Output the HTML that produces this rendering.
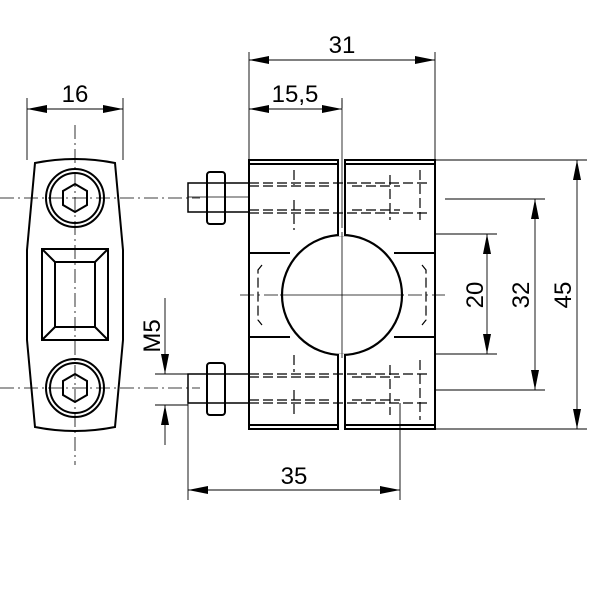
<!DOCTYPE html>
<html><head><style>body{margin:0;background:#fff}svg{display:block}text{font-family:"Liberation Sans",sans-serif;font-size:24px;fill:#000}</style></head><body>
<svg width="600" height="600" viewBox="0 0 600 600" xmlns="http://www.w3.org/2000/svg">
<defs>
<marker id="a" viewBox="0 0 20 8" refX="20" refY="4" markerWidth="20" markerHeight="8" markerUnits="userSpaceOnUse" orient="auto-start-reverse"><path d="M0,0L20,4L0,8z" fill="#000"/></marker>
</defs>
<g stroke="#000" fill="none">
<g stroke-width="0.8" stroke-dasharray="14,4,2,4">
<line x1="0" y1="198" x2="200" y2="198"/><line x1="0" y1="388" x2="200" y2="388"/>
<line x1="75" y1="125" x2="75" y2="465"/>
<line x1="240" y1="295" x2="445" y2="295"/>
</g>
<line x1="342" y1="100" x2="342" y2="355" stroke-width="0.8"/>
<g stroke-width="2">
<path d="M35,163 Q75,155 115,163 L123,250 L123,340 L115,427 Q75,435 35,427 L27,340 L27,250 Z"/>
<circle cx="75" cy="198" r="29"/><circle cx="75" cy="198" r="25"/>
<circle cx="75" cy="388" r="29"/><circle cx="75" cy="388" r="25"/>
<polygon points="75,184 87,191 87,205 75,212 63,205 63,191"/>
<polygon points="75,374 87,381 87,395 75,402 63,395 63,381"/>
<rect x="42" y="249" width="66" height="91"/><rect x="55" y="262" width="40" height="65"/>
<path d="M42,249L55,262M108,249L95,262M42,340L55,327M108,340L95,327"/>
</g>
<g stroke-width="2">
<rect x="249" y="160" width="89" height="269"/><rect x="345" y="160" width="90" height="269"/>
<line x1="249" y1="164" x2="338" y2="164"/><line x1="345" y1="164" x2="435" y2="164"/>
<line x1="249" y1="425" x2="338" y2="425"/><line x1="345" y1="425" x2="435" y2="425"/>
<line x1="249" y1="253" x2="290" y2="253"/><line x1="394" y1="253" x2="435" y2="253"/>
<line x1="249" y1="337" x2="290" y2="337"/><line x1="394" y1="337" x2="435" y2="337"/>
</g>
<circle cx="342" cy="295" r="60" fill="#fff" stroke-width="2.2"/>
<rect x="339" y="228" width="5" height="8" fill="#fff" stroke="none"/>
<rect x="339" y="354" width="5" height="8" fill="#fff" stroke="none"/>
<line x1="342" y1="232" x2="342" y2="358" stroke-width="0.8"/>
<line x1="280" y1="295" x2="404" y2="295" stroke-width="0.8"/>
<g stroke-width="1.5">
<rect x="188" y="183" width="61" height="29"/><line x1="188" y1="197" x2="249" y2="197" stroke-width="0.8"/>
<rect x="207" y="172" width="18" height="52" rx="3" stroke-width="2"/>
<rect x="188" y="374" width="61" height="29"/>
<rect x="207" y="363" width="18" height="52" rx="3" stroke-width="2"/>
</g>
<g stroke-width="1.2" stroke-dasharray="10,4">
<path d="M249,183H430M249,213H430M249,374H430M249,403H430"/>
<path d="M249,186H330M352,186H400M249,210H330M352,210H400M249,377H330M352,377H400M249,400H330M352,400H400"/>
<path d="M294,170V185M294,200V230M294,355V372M294,390V418"/>
<path d="M420,170V220M420,360V420M390,175V220M390,365V415"/>
<path d="M262,265L258,270V320L262,325M422,265L426,270V320L422,325"/>
</g>
<g stroke-width="0.9">
<line x1="249" y1="52" x2="249" y2="160"/><line x1="435" y1="52" x2="435" y2="160"/>
<line x1="342" y1="98" x2="342" y2="108"/>
<line x1="249" y1="60" x2="435" y2="60" marker-start="url(#a)" marker-end="url(#a)"/>
<line x1="249" y1="109" x2="342" y2="109" marker-start="url(#a)" marker-end="url(#a)"/>
<line x1="27" y1="98" x2="27" y2="160"/><line x1="123" y1="98" x2="123" y2="160"/>
<line x1="27" y1="109" x2="123" y2="109" marker-start="url(#a)" marker-end="url(#a)"/>
<line x1="188" y1="403" x2="188" y2="500"/><line x1="400" y1="403" x2="400" y2="500"/>
<line x1="188" y1="490" x2="400" y2="490" marker-start="url(#a)" marker-end="url(#a)"/>
<line x1="435" y1="160" x2="587" y2="160"/><line x1="435" y1="429" x2="587" y2="429"/>
<line x1="445" y1="199" x2="545" y2="199"/><line x1="435" y1="390" x2="545" y2="390"/>
<line x1="435" y1="234" x2="497" y2="234"/><line x1="435" y1="354" x2="497" y2="354"/>
<line x1="577" y1="160" x2="577" y2="429" marker-start="url(#a)" marker-end="url(#a)"/>
<line x1="535" y1="199" x2="535" y2="390" marker-start="url(#a)" marker-end="url(#a)"/>
<line x1="487" y1="234" x2="487" y2="354" marker-start="url(#a)" marker-end="url(#a)"/>
<line x1="155" y1="374" x2="188" y2="374"/><line x1="155" y1="405" x2="188" y2="405"/>
<line x1="165" y1="298" x2="165" y2="374" marker-end="url(#a)"/>
<line x1="165" y1="445" x2="165" y2="405" marker-end="url(#a)"/>
</g>
</g>
<text x="342" y="53" text-anchor="middle">31</text>
<text x="295" y="102" text-anchor="middle">15,5</text>
<text x="75" y="102" text-anchor="middle">16</text>
<text x="294" y="484" text-anchor="middle">35</text>
<text transform="translate(483,295) rotate(-90)" text-anchor="middle">20</text>
<text transform="translate(529,295) rotate(-90)" text-anchor="middle">32</text>
<text transform="translate(571,295) rotate(-90)" text-anchor="middle">45</text>
<text transform="translate(160,336) rotate(-90)" text-anchor="middle">M5</text>
</svg>
</body></html>
